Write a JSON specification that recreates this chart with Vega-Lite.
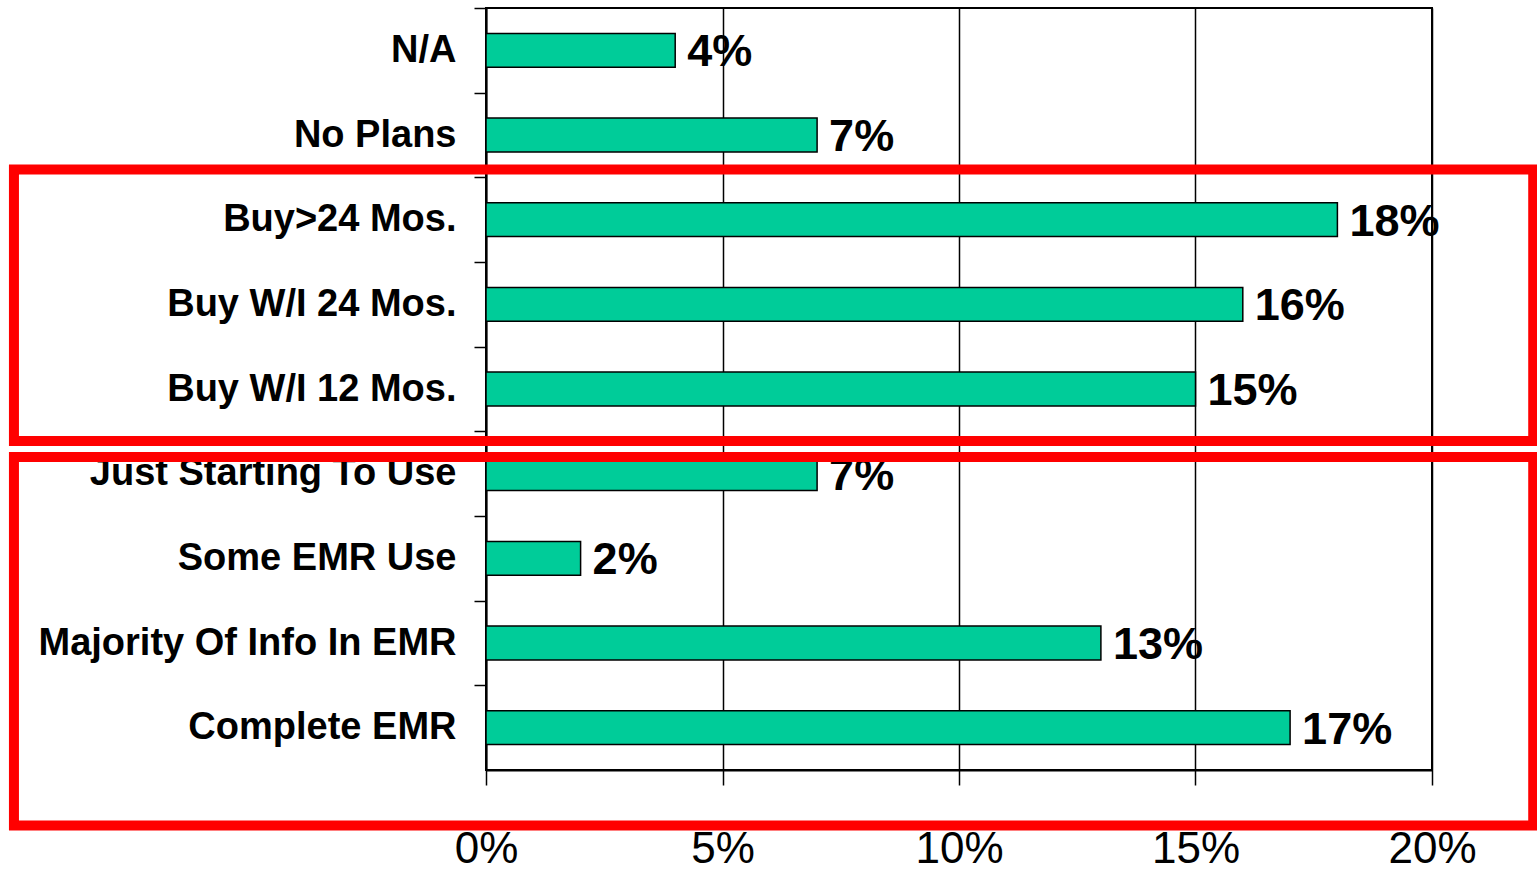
{
  "$schema": "https://vega.github.io/schema/vega-lite/v6.json",
  "autosize": {"type": "none"},
  "width": 946,
  "height": 762,
  "padding": {"left": 486, "top": 8, "right": 105, "bottom": 107},
  "background": "white",
  "config": {
    "view": {"stroke": "black", "strokeWidth": 2},
    "font": "Liberation Sans"
  },
  "datasets": {
    "bars": [
      {"status": "N/A", "share": 0.04},
      {"status": "No Plans", "share": 0.07},
      {"status": "Buy>24 Mos.", "share": 0.18},
      {"status": "Buy W/I 24 Mos.", "share": 0.16},
      {"status": "Buy W/I 12 Mos.", "share": 0.15},
      {"status": "Just Starting To Use", "share": 0.07},
      {"status": "Some EMR Use\u00a0", "share": 0.02},
      {"status": "Majority Of Info In EMR", "share": 0.13},
      {"status": "Complete EMR", "share": 0.17}
    ],
    "boxes": [
      {"x0": -0.0998, "x1": 0.2214, "y0": 1.907, "y1": 5.114},
      {"x0": -0.0998, "x1": 0.2214, "y0": 5.303, "y1": 9.655}
    ]
  },
  "layer": [
    {
      "data": {"name": "bars"},
      "layer": [
        {
          "mark": {"type": "bar", "fill": "#00CC99", "stroke": "black", "strokeWidth": 1.5},
          "encoding": {
            "y": {
              "field": "status", "type": "nominal", "sort": null,
              "scale": {"paddingInner": 0.6, "paddingOuter": 0.3},
              "axis": {
                "title": null,
                "labelFont": "Liberation Sans", "labelFontWeight": "bold", "labelFontSize": 38,
                "labelColor": "black", "labelPadding": 18, "labelLimit": 600,
                "domainColor": "black", "domainWidth": 2,
                "tickColor": "black", "tickWidth": 1.5, "tickSize": 12,
                "tickOffset": -42.33, "labelOffset": 42.33
              }
            },
            "x": {
              "field": "share", "type": "quantitative",
              "scale": {"domain": [0, 0.2], "nice": false, "zero": true},
              "axis": {
                "title": null, "format": ".0%", "values": [0, 0.05, 0.1, 0.15, 0.2],
                "labelFont": "Liberation Sans", "labelFontSize": 44, "labelColor": "black",
                "labelPadding": 42, "labelFlush": false,
                "domainColor": "black", "domainWidth": 2,
                "tickColor": "black", "tickWidth": 1.5, "tickSize": 15,
                "grid": true, "gridColor": "black", "gridWidth": 1.5, "gridOpacity": 1
              }
            }
          }
        },
        {
          "mark": {"type": "text", "align": "left", "baseline": "middle", "dx": 12, "dy": 2,
                   "font": "Liberation Sans", "fontWeight": "bold", "fontSize": 45, "color": "black"},
          "encoding": {
            "y": {"field": "status", "type": "nominal", "sort": null},
            "x": {"field": "share", "type": "quantitative"},
            "text": {"field": "share", "type": "quantitative", "format": ".0%"}
          }
        }
      ]
    },
    {
      "data": {"name": "boxes"},
      "mark": {"type": "rect", "filled": false, "stroke": "#FF0000", "strokeWidth": 10, "clip": false},
      "encoding": {
        "x": {"field": "x0", "type": "quantitative"},
        "x2": {"field": "x1"},
        "y": {"field": "y0", "type": "quantitative", "scale": {"domain": [0, 9], "reverse": true, "nice": false, "zero": false}, "axis": null},
        "y2": {"field": "y1"}
      }
    }
  ],
  "resolve": {"scale": {"y": "independent"}, "axis": {"y": "independent"}}
}
